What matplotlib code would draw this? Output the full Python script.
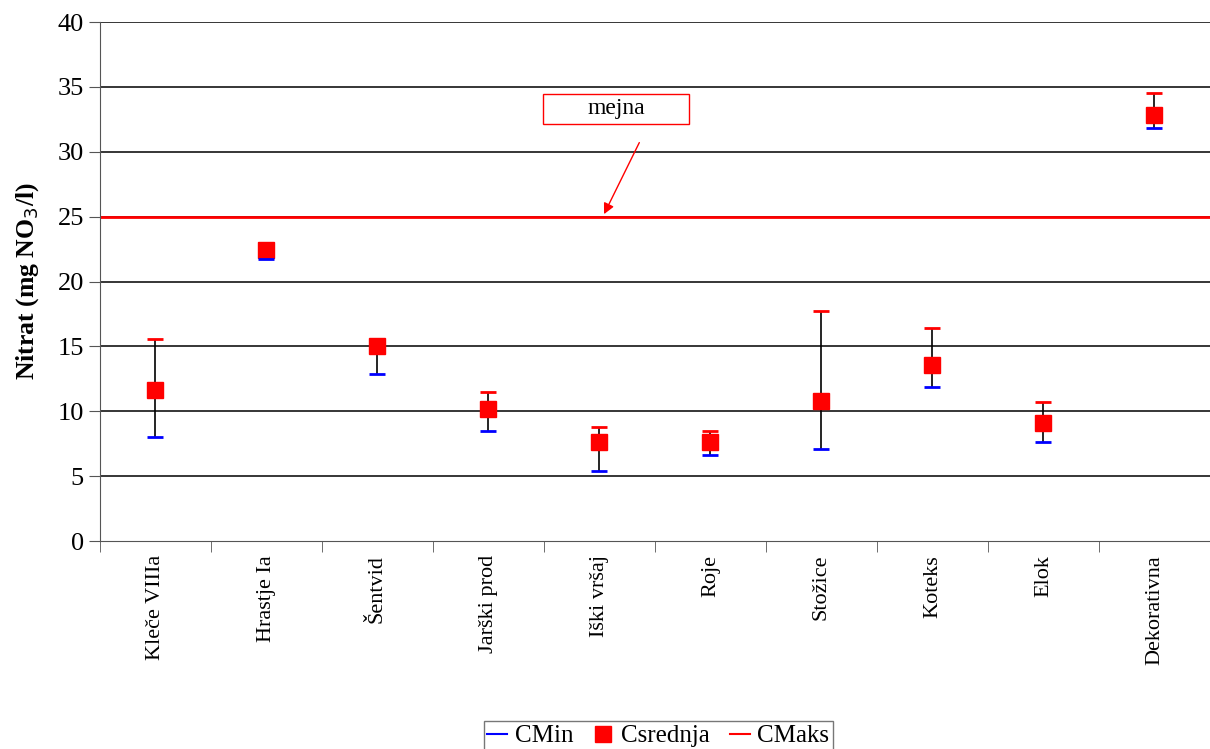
import matplotlib
matplotlib.use('Agg')
from matplotlib import pyplot as plt
from matplotlib.lines import Line2D
from matplotlib.patches import Rectangle
import numpy as np

plt.rcParams['font.family'] = ['Liberation Serif', 'DejaVu Serif']

# data
sites = ['Kleče VIIIa', 'Hrastje Ia', 'Šentvid', 'Jarški prod', 'Iški vršaj',
         'Roje', 'Stožice', 'Koteks', 'Elok', 'Dekorativna']
c_min = [8.0, 21.7, 12.9, 8.5, 5.4, 6.6, 7.1, 11.9, 7.6, 31.8]
c_mean = [11.6, 22.4, 15.0, 10.2, 7.6, 7.6, 10.8, 13.6, 9.1, 32.8]
c_max = [15.6, 23.0, 15.4, 11.5, 8.8, 8.45, 17.7, 16.4, 10.7, 34.5]
limit = 25

x = np.arange(len(sites))

fig = plt.figure(figsize=(12.1, 7.49), dpi=100)
ax = fig.add_axes([0.0826, 0.2777, 0.9174, 0.6929])

# grid
for v in range(5, 45, 5):
    ax.axhline(v, color='black', lw=1.1, zorder=0)

# min-max whiskers
ax.vlines(x, c_min, c_max, color='black', lw=1.2, zorder=2)
ax.plot(x, c_mean, ls='none', marker='s', ms=11, color='red', zorder=4)
ax.plot(x, c_min, ls='none', marker='_', ms=12, mew=2, color='blue', zorder=5)
ax.plot(x, c_max, ls='none', marker='_', ms=12, mew=2, color='red', zorder=5)

# limit line
ax.axhline(limit, color='red', lw=2, zorder=1)
ax.add_patch(Rectangle((3.49, 32.14), 1.32, 2.31, fill=False, edgecolor='red',
                       lw=1, zorder=5))
ax.text(4.15, 33.3, 'mejna', ha='center', va='center', fontsize=17, zorder=6)
ax.annotate('', xy=(4.03, limit), xytext=(4.37, 30.9),
            arrowprops=dict(arrowstyle='-|>', color='red', lw=1,
                            mutation_scale=16))

ax.set_xlim(-0.5, len(sites) - 0.5)
ax.set_ylim(0, 40)
ax.set_yticks(range(0, 45, 5))
ax.set_xticks(x)
ax.set_xticklabels(sites, rotation=90, fontsize=16)
ax.tick_params(axis='x', length=0, pad=10)
ax.set_xticks(np.arange(-0.5, len(sites), 1), minor=True)
ax.tick_params(axis='x', which='minor', length=8, direction='out', color='#555555')
ax.tick_params(axis='y', labelsize=19, length=8, direction='out', color='#555555')
ax.set_ylabel('Nitrat (mg NO$_3$/l)', fontsize=18.5, fontweight='bold', labelpad=12)

for s in ['top', 'right']:
    ax.spines[s].set_visible(False)
ax.spines['left'].set_color('#555555')
ax.spines['bottom'].set_color('#555555')

handles = [Line2D([], [], color='blue', lw=1.5),
           Line2D([], [], ls='none', marker='s', ms=12, color='red'),
           Line2D([], [], color='red', lw=1.5)]
leg = fig.legend(handles, ['CMin', 'Csrednja', 'CMaks'], loc='upper center',
                 bbox_to_anchor=(0.544, 0.054), ncol=3, fontsize=18,
                 frameon=True, fancybox=False, handlelength=0.8,
                 handletextpad=0.3, columnspacing=0.8, borderpad=0.15)
leg.get_frame().set_edgecolor('#555555')
leg.get_frame().set_linewidth(1)

fig.savefig('out.png', dpi=100)
